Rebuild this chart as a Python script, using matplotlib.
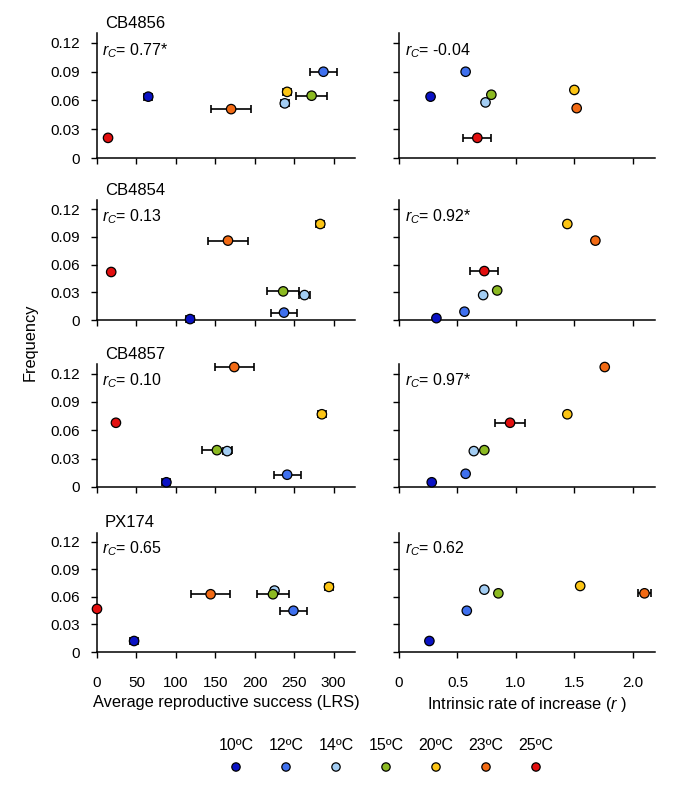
import numpy as np
import matplotlib
matplotlib.use("Agg")
import matplotlib.pyplot as plt

plt.rcParams['font.family'] = ['Liberation Sans', 'DejaVu Sans']
plt.rcParams['mathtext.fontset'] = 'custom'
plt.rcParams['mathtext.rm'] = 'Liberation Sans'
plt.rcParams['mathtext.it'] = 'Liberation Sans:italic'

# ---------------- data ----------------
temps = ['10ºC', '12ºC', '14ºC', '15ºC', '20ºC', '23ºC', '25ºC']
colors = ['#0a12c4', '#3f70ee', '#a3cdf3', '#8cba22', '#fcc515', '#f26a14', '#e20f0f']
strains = ['CB4856', 'CB4854', 'CB4857', 'PX174']
rc_lrs = ['0.77*', '0.13', '0.10', '0.65']
rc_r = ['-0.04', '0.92*', '0.97*', '0.62']

# Frequency per strain, order of temps
freq_lrs = {
    'CB4856': [0.064, 0.090, 0.057, 0.065, 0.069, 0.051, 0.021],
    'CB4854': [0.001, 0.008, 0.027, 0.031, 0.104, 0.086, 0.052],
    'CB4857': [0.005, 0.013, 0.038, 0.039, 0.077, 0.127, 0.068],
    'PX174':  [0.012, 0.045, 0.067, 0.063, 0.071, 0.063, 0.047],
}
freq_r = {
    'CB4856': [0.064, 0.090, 0.058, 0.066, 0.071, 0.052, 0.021],
    'CB4854': [0.002, 0.009, 0.027, 0.032, 0.104, 0.086, 0.053],
    'CB4857': [0.005, 0.014, 0.038, 0.039, 0.077, 0.127, 0.068],
    'PX174':  [0.012, 0.045, 0.068, 0.064, 0.072, 0.064, np.nan],
}
# Average reproductive success (LRS) and its error
lrs = {
    'CB4856': [65, 287, 238, 272, 241, 170, 14],
    'CB4854': [118, 237, 263, 236, 283, 166, 18],
    'CB4857': [88, 241, 165, 152, 285, 174, 24],
    'PX174':  [47, 249, 225, 223, 294, 144, 0],
}
lrs_err = {
    'CB4856': [5, 17, 5, 20, 5, 25, 2],
    'CB4854': [5, 17, 7, 20, 5, 25, 2],
    'CB4857': [5, 17, 5, 19, 5, 25, 2],
    'PX174':  [5, 17, 4, 20, 5, 25, 2],
}
# Intrinsic rate of increase (r) and its error
rate = {
    'CB4856': [0.27, 0.57, 0.74, 0.79, 1.50, 1.52, 0.67],
    'CB4854': [0.32, 0.56, 0.72, 0.84, 1.44, 1.68, 0.73],
    'CB4857': [0.28, 0.57, 0.64, 0.73, 1.44, 1.76, 0.95],
    'PX174':  [0.26, 0.58, 0.73, 0.85, 1.55, 2.10, np.nan],
}
rate_err = {
    'CB4856': [0.01, 0.01, 0.01, 0.01, 0.01, 0.02, 0.12],
    'CB4854': [0.01, 0.01, 0.01, 0.01, 0.01, 0.02, 0.12],
    'CB4857': [0.01, 0.01, 0.01, 0.01, 0.01, 0.02, 0.125],
    'PX174':  [0.01, 0.01, 0.01, 0.01, 0.01, 0.057, np.nan],
}

yticks = [0, 0.03, 0.06, 0.09, 0.12]
yticklabels = ['0', '0.03', '0.06', '0.09', '0.12']
lrs_ticks = [0, 50, 100, 150, 200, 250, 300]
r_ticks = [0, 0.5, 1.0, 1.5, 2.0]
r_ticklabels = ['0', '0.5', '1.0', '1.5', '2.0']

# ---------------- figure ----------------
W, H = 685, 785
fig = plt.figure(figsize=(W / 100, H / 100), dpi=100)

row_bottoms = [158, 320, 487, 652]
row_heights = [124.6, 120.0, 122.8, 119.2]
left_x0, left_w = 97, 258
right_x0, right_w = 399, 256

FS_TICK = 11
FS_TXT = 11.5
FS_TITLE = 12
FS_LAB = 11.8


def style(ax, xlim, xt, xtl, show_x, show_y):
    ax.set_ylim(0, 0.13)
    ax.set_xlim(*xlim)
    for s in ['top', 'right']:
        ax.spines[s].set_visible(False)
    for s in ['left', 'bottom']:
        ax.spines[s].set_linewidth(1.1)
    ax.set_yticks(yticks)
    ax.set_xticks(xt)
    ax.set_yticklabels(yticklabels if show_y else [])
    ax.set_xticklabels(xtl if show_x else [])
    ax.tick_params(axis='both', direction='out', length=4, width=1.0,
                   labelsize=FS_TICK)
    ax.tick_params(axis='x', pad=13)
    ax.tick_params(axis='y', pad=8)


for i, st in enumerate(strains):
    b = row_bottoms[i]
    h = row_heights[i]
    yb = 1 - b / H
    hh = h / H
    last = (i == len(strains) - 1)

    axL = fig.add_axes([left_x0 / W, yb, left_w / W, hh])
    axR = fig.add_axes([right_x0 / W, yb, right_w / W, hh])

    # left: LRS
    style(axL, (0, 327), lrs_ticks, [str(t) for t in lrs_ticks], last, True)
    x = np.array(lrs[st], dtype=float)
    y = np.array(freq_lrs[st], dtype=float)
    e = np.array(lrs_err[st], dtype=float)
    axL.errorbar(x, y, xerr=e, fmt='none', ecolor='black', elinewidth=1.2,
                 capsize=3.2, capthick=1.2, zorder=2, clip_on=False)
    axL.scatter(x, y, s=46, c=colors, edgecolors='black', linewidths=0.9,
                zorder=3, clip_on=False)
    axL.text(0.031, 1.045, st, transform=axL.transAxes, fontsize=FS_TITLE,
             ha='left', va='baseline')
    axL.text(0.02, 0.865, r'$r_C$= ' + rc_lrs[i], transform=axL.transAxes,
             fontsize=FS_TXT, ha='left', va='center')

    # right: r
    style(axR, (0, 2.19), r_ticks, r_ticklabels, last, False)
    x = np.array(rate[st], dtype=float)
    y = np.array(freq_r[st], dtype=float)
    e = np.array(rate_err[st], dtype=float)
    m = ~np.isnan(x)
    axR.errorbar(x[m], y[m], xerr=e[m], fmt='none', ecolor='black',
                 elinewidth=1.2, capsize=3.2, capthick=1.2, zorder=2,
                 clip_on=False)
    axR.scatter(x[m], y[m], s=46, c=[c for c, k in zip(colors, m) if k],
                edgecolors='black', linewidths=0.9, zorder=3, clip_on=False)
    axR.text(0.023, 0.865, r'$r_C$= ' + rc_r[i], transform=axR.transAxes,
             fontsize=FS_TXT, ha='left', va='center')

    if last:
        axL.set_xlabel('Average reproductive success (LRS)', fontsize=FS_LAB,
                       labelpad=4)
        axR.set_xlabel(r'Intrinsic rate of increase ($r$ )', fontsize=FS_LAB,
                       labelpad=4)

fig.text(30 / W, 1 - 342 / H, 'Frequency', rotation=90, fontsize=FS_LAB,
         ha='center', va='center')

# legend
axLeg = fig.add_axes([211 / W, 0, 350 / W, 50 / H])
axLeg.set_xlim(-0.5, 6.5)
axLeg.set_ylim(0, 1)
axLeg.axis('off')
lx = np.arange(len(temps))
axLeg.scatter(lx, np.full(len(temps), 0.36), s=36, c=colors,
              edgecolors='black', linewidths=0.9, clip_on=False)
for xi, t in zip(lx, temps):
    axLeg.text(xi, 0.78, t, ha='center', va='center', fontsize=11.5)

fig.savefig('out.png', dpi=100)
